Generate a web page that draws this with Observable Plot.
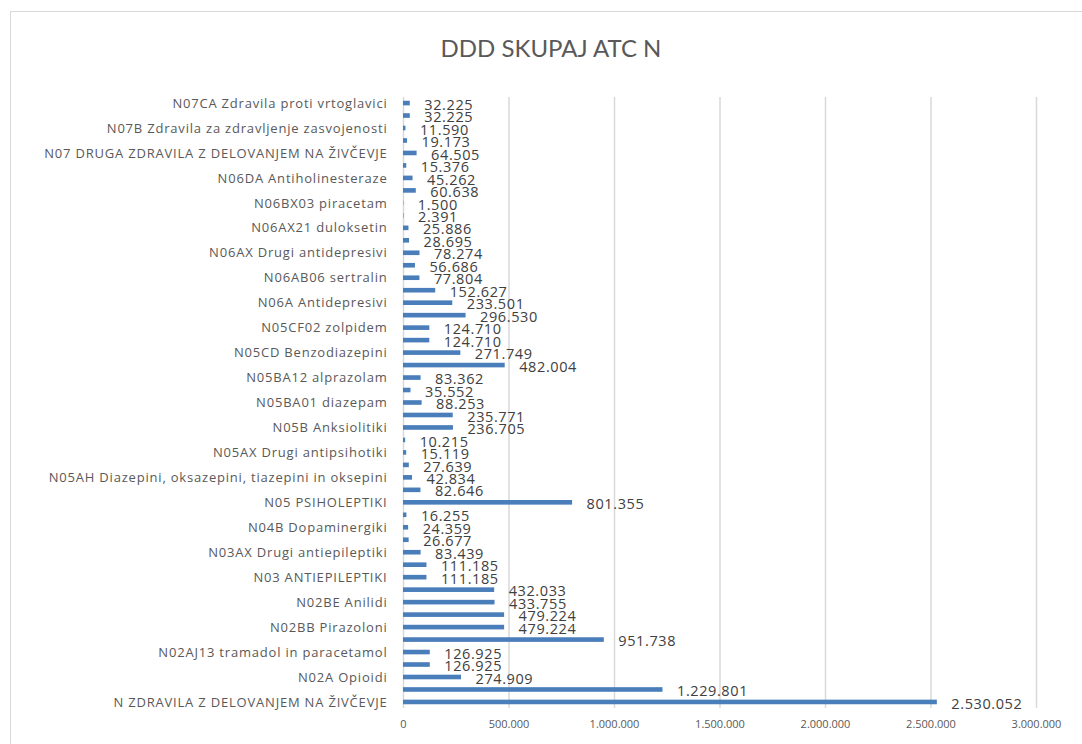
<!DOCTYPE html>
<html>
<head>
<meta charset="utf-8">
<script src="https://cdn.jsdelivr.net/npm/d3@7"></script>
<script src="https://cdn.jsdelivr.net/npm/@observablehq/plot@0.6"></script>
<style>
  html, body { margin: 0; padding: 0; background: #fff; overflow: hidden; }
  #wrap { position: relative; width: 1082px; height: 744px; }
  #frame { position: absolute; left: 10px; top: 11px; width: 1100px; height: 800px; border: 1.5px solid #d9d9d9; box-sizing: border-box; }
  #title { position: absolute; left: 0; top: 33px; width: 1102px; text-align: center; font-family: Lato, "Open Sans", sans-serif; font-size: 24px; color: #595959; }
  #chart { position: absolute; left: 0; top: 0; }
  #chart svg { display: block; }
</style>
</head>
<body>
<div id="wrap">
  <div id="frame"></div>
  <div id="chart"></div>
  <div id="title">DDD SKUPAJ ATC N</div>
</div>
<script>
// Categories listed from bottom to top of the chart
const categories = [
  "N ZDRAVILA Z DELOVANJEM NA ŽIVČEVJE",
  "N02 ANALGETIKI",
  "N02A Opioidi",
  "N02AJ Opioidi v kombinaciji z neopioidnimi analgetiki",
  "N02AJ13 tramadol in paracetamol",
  "N02B Drugi analgetiki in antipiretiki",
  "N02BB Pirazoloni",
  "N02BB02 metamizol",
  "N02BE Anilidi",
  "N02BE01 paracetamol",
  "N03 ANTIEPILEPTIKI",
  "N03A Antiepileptiki",
  "N03AX Drugi antiepileptiki",
  "N04 ANTIPARKINSONIKI",
  "N04B Dopaminergiki",
  "N04BC Agonisti dopamina",
  "N05 PSIHOLEPTIKI",
  "N05A Antipsihotiki",
  "N05AH Diazepini, oksazepini, tiazepini in oksepini",
  "N05AH04 kvetiapin",
  "N05AX Drugi antipsihotiki",
  "N05AX08 risperidon",
  "N05B Anksiolitiki",
  "N05BA Benzodiazepinski derivati",
  "N05BA01 diazepam",
  "N05BA06 lorazepam",
  "N05BA12 alprazolam",
  "N05C Uspavala in pomirjevala",
  "N05CD Benzodiazepini",
  "N05CF Benzodiazepinom sorodne učinkovine",
  "N05CF02 zolpidem",
  "N06 PSIHOANALEPTIKI",
  "N06A Antidepresivi",
  "N06AB Selektivni zaviralci privzema serotonina",
  "N06AB06 sertralin",
  "N06AB10 escitalopram",
  "N06AX Drugi antidepresivi",
  "N06AX16 venlafaksin",
  "N06AX21 duloksetin",
  "N06B Psihostimulansi",
  "N06BX03 piracetam",
  "N06D Zdravila proti demenci",
  "N06DA Antiholinesteraze",
  "N06DX Druga zdravila proti demenci",
  "N07 DRUGA ZDRAVILA Z DELOVANJEM NA ŽIVČEVJE",
  "N07A Parasimpatikomimetiki",
  "N07B Zdravila za zdravljenje zasvojenosti",
  "N07C Zdravila proti vrtoglavici",
  "N07CA Zdravila proti vrtoglavici"
];
const values = [
  2530052, 1229801, 274909, 126925, 126925, 951738, 479224, 479224, 433755, 432033,
  111185, 111185, 83439, 26677, 24359, 16255, 801355, 82646, 42834, 27639,
  15119, 10215, 236705, 235771, 88253, 35552, 83362, 482004, 271749, 124710,
  124710, 296530, 233501, 152627, 77804, 56686, 78274, 28695, 25886, 2391,
  1500, 60638, 45262, 15376, 64505, 19173, 11590, 32225, 32225
];
// Category labels shown on the axis (every other category)
const labeledCategories = categories.filter((d, i) => i % 2 === 0);
const xTicks = [0, 500000, 1000000, 1500000, 2000000, 2500000, 3000000];

const data = categories.map((c, i) => ({cat: c, value: values[i]}));
const loc = d3.formatLocale({decimal: ",", thousands: ".", grouping: [3], currency: ["", ""]});
const fmt = loc.format(",d");

const chart = Plot.plot({
  width: 1082,
  height: 744,
  marginLeft: 403,
  marginRight: 46,
  marginTop: 97,
  marginBottom: 36,
  style: {fontFamily: "'Open Sans', sans-serif", background: "transparent", overflow: "visible"},
  x: {domain: [0, 3000000], ticks: xTicks, tickFormat: fmt},
  y: {domain: categories.slice().reverse(), paddingInner: 0.63, paddingOuter: 0.3, round: false},
  marks: [
    Plot.ruleX(xTicks, {stroke: "#d9d9d9", strokeWidth: 1.5}),
    Plot.barX(data, {x: "value", y: "cat", fill: "#4a7ebb"}),
    Plot.text(data, {x: "value", y: "cat", text: d => fmt(d.value), textAnchor: "start", dx: 14, dy: 1.5, fontSize: 14.5, fill: "#404040"}),
    Plot.axisY({ticks: labeledCategories, tickSize: 0, tickPadding: 16, fontSize: 13, color: "#595959", label: null}),
    Plot.axisX({ticks: xTicks, tickFormat: fmt, tickSize: 0, tickPadding: 12, fontSize: 11, color: "#595959", label: null})
  ]
});
// Excel-like letter spacing for the category and value labels
d3.select(chart).selectAll("[aria-label='y-axis tick label'] text").style("letter-spacing", "0.8px");
d3.select(chart).selectAll("[aria-label='text'] text").style("letter-spacing", "0.6px");
document.getElementById("chart").appendChild(chart);
</script>
</body>
</html>
